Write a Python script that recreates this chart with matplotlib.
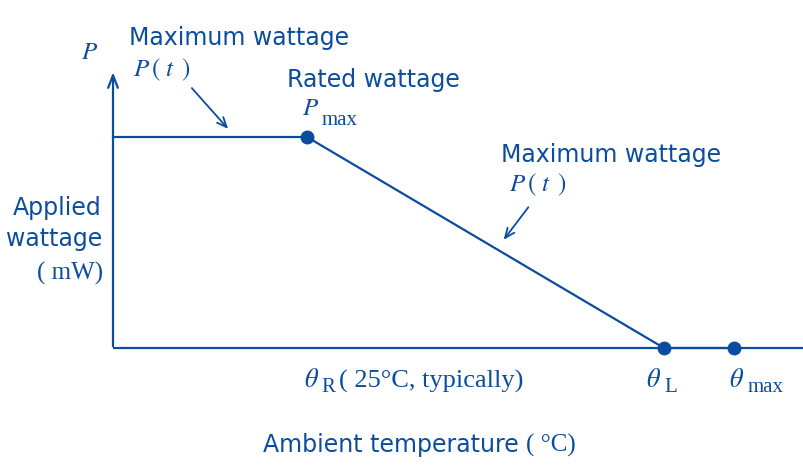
import matplotlib
matplotlib.use("Agg")
from matplotlib import pyplot as plt

plt.rcParams['mathtext.fontset'] = 'stix'

# derating curve (x: ambient temperature, arbitrary units; y: % of rated wattage)
temp_points = [0, 25, 71]          # origin, theta_R, theta_L
power_points = [100, 100, 0]
theta_max = 80
x_axis_end = 89
y_axis_top = 132

blue = '#0a4d9f'
sans = ['DejaVu Sans']
serif = ['Liberation Serif', 'DejaVu Serif']
fs_sans = 17

fig = plt.figure(figsize=(8.04, 4.66), dpi=100)
ax = fig.add_axes([0, 0, 1, 1])
# map so the origin sits at pixel (113, 348)
ax.set_xlim(-113 / 7.76, (804 - 113) / 7.76)
ax.set_ylim(-(466 - 348) / 2.11, 348 / 2.11)
ax.axis('off')

# axes
ax.plot([0, x_axis_end], [0, 0], color=blue, lw=1.6, solid_capstyle='butt')
ax.annotate('', xy=(0, y_axis_top), xytext=(0, -0.5),
            arrowprops=dict(arrowstyle='->,head_length=0.9,head_width=0.35', color=blue, lw=1.6))

# curve
ax.plot([temp_points[0], temp_points[1], temp_points[2], theta_max],
        [power_points[0], power_points[1], power_points[2], 0], color=blue, lw=1.6)
ax.plot([temp_points[1], temp_points[2], theta_max], [power_points[1], 0, 0], 'o',
        color=blue, ms=9)

def px(x, y):
    # pixel position -> data coordinates
    return (x - 113) / 7.76, (348 - y) / 2.11

pt_label = r'$P\,(\ t\ \,)$'

# labels
ax.text(*px(81, 52), r'$P$', fontsize=18, color=blue, va='center')
ax.text(*px(129, 38), 'Maximum wattage', fontsize=fs_sans, color=blue, family=sans, va='center')
ax.text(*px(133, 70), pt_label, fontsize=18, color=blue, va='center')
ax.annotate('', xy=px(230, 131), xytext=px(190, 86),
            arrowprops=dict(arrowstyle='->,head_length=0.7,head_width=0.3', color=blue, lw=1.3))
ax.text(*px(287, 80), 'Rated wattage', fontsize=fs_sans, color=blue, family=sans, va='center')
ax.text(*px(302, 108), r'$P$', fontsize=18, color=blue, va='center')
ax.text(*px(322, 121), 'max', fontsize=15, color=blue, family=serif, va='center')

ax.text(*px(501, 155), 'Maximum wattage', fontsize=fs_sans, color=blue, family=sans, va='center')
ax.text(*px(509, 185), pt_label, fontsize=18, color=blue, va='center')
ax.annotate('', xy=px(502, 242), xytext=px(530, 205),
            arrowprops=dict(arrowstyle='->,head_length=0.7,head_width=0.3', color=blue, lw=1.3))

ax.text(*px(102, 208), 'Applied', fontsize=fs_sans, color=blue, family=sans, ha='right', va='center')
ax.text(*px(102, 239), 'wattage', fontsize=fs_sans, color=blue, family=sans, ha='right', va='center')
ax.text(*px(103, 273), '( mW)', fontsize=18, color=blue, family=serif, ha='right', va='center')

ax.text(*px(304, 380), r'$\theta$', fontsize=19, color=blue, va='center')
ax.text(*px(321, 387), 'R', fontsize=15, color=blue, family=serif, va='center')
ax.text(*px(339, 381), '( 25°C, typically)', fontsize=19, color=blue, family=serif, va='center')
ax.text(*px(646, 380), r'$\theta$', fontsize=19, color=blue, va='center')
ax.text(*px(664, 387), 'L', fontsize=15, color=blue, family=serif, va='center')
ax.text(*px(729, 380), r'$\theta$', fontsize=19, color=blue, va='center')
ax.text(*px(748, 387), 'max', fontsize=15, color=blue, family=serif, va='center')

amb = ax.text(*px(263, 445), 'Ambient temperature', fontsize=fs_sans, color=blue, family=sans,
              va='center')
ax.annotate('( °C)', xy=(1, 0.5), xycoords=amb, xytext=(5, 0), textcoords='offset points',
            fontsize=18, color=blue, family=serif, va='center')

fig.savefig('out.png', dpi=100, facecolor='white')
